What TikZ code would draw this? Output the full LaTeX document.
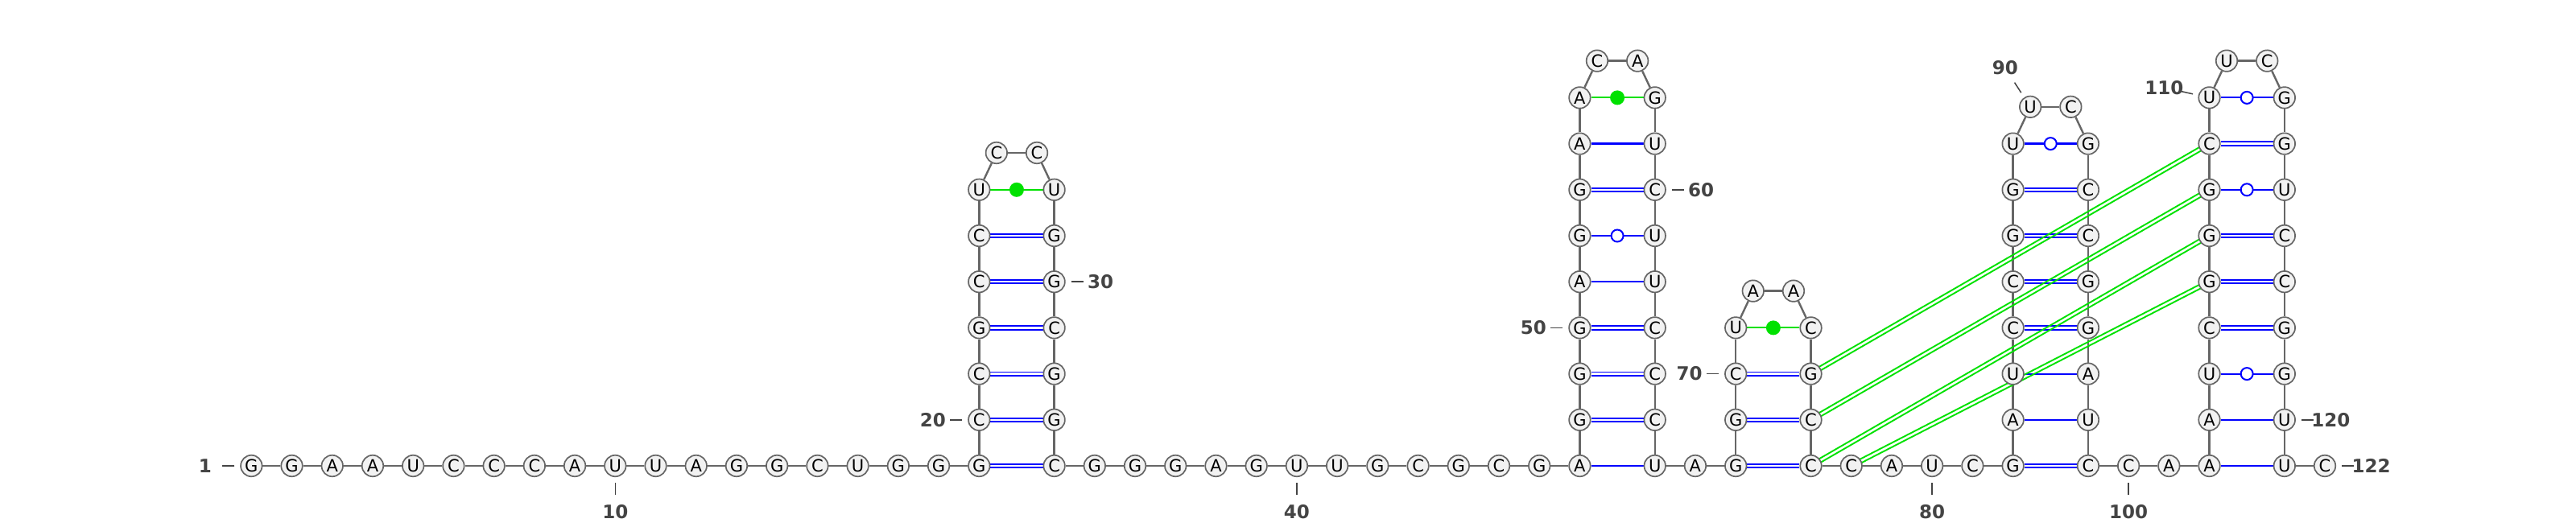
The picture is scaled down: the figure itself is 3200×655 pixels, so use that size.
\documentclass[tikz,border=0pt]{standalone}
\usepackage{fontspec}
\setmainfont{DejaVu Sans}
\usetikzlibrary{calc}
\usetikzlibrary{decorations.markings}
\pgfdeclarelayer{back}
\pgfsetlayers{back,main}

\definecolor{bbgray}{RGB}{102,102,102}
\definecolor{ntfill}{RGB}{242,242,242}
\definecolor{numgray}{RGB}{68,68,68}
\definecolor{pairblue}{RGB}{0,0,255}
\definecolor{ncgreen}{RGB}{0,225,0}

\newcommand{\ybase}{579}
\newcommand{\ntstep}{50.22}
\newcommand{\rowstep}{57.2}
\newcommand{\pairw}{93.3}
\newcommand{\loopup}{45.8}

% unpaired run on the base line: #1 x of first base, #2 its number, #3 bases
\newcommand{\unpaired}[3]{%
  \foreach \nb [count=\k from 0] in {#3} {
    \pgfmathtruncatemacro{\i}{#2+\k}
    \node[nt] (n\i) at ({#1+\k*\ntstep},\ybase) {\nb};
  }}

% stem-loop: #1 x of 5' side, #2 first base, #3 rows, #4 5' side (up), #5 loop, #6 3' side (down)
\newcommand{\hairpin}[6]{%
  \foreach \nb [count=\k from 0] in {#4} {
    \pgfmathtruncatemacro{\i}{#2+\k}
    \node[nt] (n\i) at (#1,{\ybase-\k*\rowstep}) {\nb};
  }
  \foreach \nb [count=\k from 0] in {#5} {
    \pgfmathtruncatemacro{\i}{#2+#3+\k}
    \node[nt] (n\i) at ({#1+\pairw/2+(\k-0.5)*\ntstep},{\ybase-(#3-1)*\rowstep-\loopup}) {\nb};
  }
  \foreach \nb [count=\k from 0] in {#6} {
    \pgfmathtruncatemacro{\i}{#2+#3+2+\k}
    \node[nt] (n\i) at ({#1+\pairw},{\ybase-(#3-1-\k)*\rowstep}) {\nb};
  }}

% position number with its tick: #1 base, #2 direction, #3 text
\newcommand{\numlabel}[3]{%
  \draw[tick] ($(n#1)+(#2:21)$) -- ($(n#1)+(#2:36)$);
  \node[num] at ($(n#1)+(#2:57.5)$) {#3};}

\begin{document}
\begin{tikzpicture}[
  x=1pt, y=-1pt,
  nt/.style = {circle, draw=bbgray, fill=ntfill, line width=1.7pt, minimum size=26.5pt,
    inner sep=0pt, font=\fontsize{21}{21}\selectfont},
  num/.style = {text=numgray, inner sep=0pt, font=\fontsize{23}{23}\selectfont\bfseries},
  tick/.style = {draw=numgray, line width=1.5pt},
  backbone/.style = {draw=bbgray, line width=2.4pt},
  au/.style = {draw=pairblue, line width=2.2pt},
  gc/.style = {draw=pairblue, line width=1.9pt, double=white, double distance=2.4pt},
  gudot/.style = {circle, draw=pairblue, fill=white, line width=2pt, minimum size=15pt, inner sep=0pt},
  ncdot/.style = {circle, fill=ncgreen, minimum size=18pt, inner sep=0pt},
  gu/.style = {au, postaction={decorate, decoration={markings, mark=at position .5 with {\node[gudot] {};}}}},
  nc/.style = {draw=ncgreen, line width=2pt,
    postaction={decorate, decoration={markings, mark=at position .5 with {\node[ncdot] {};}}}},
  pk/.style = {draw=ncgreen, line width=1.9pt}
  ]
	\useasboundingbox (0,0) rectangle (3200,655);

	\unpaired{312.3}{1}{G,G,A,A,U,C,C,C,A,U,U,A,G,G,C,U,G,G}
	\hairpin{1216.3}{19}{7}{G,C,C,G,C,C,U}{C,C}{U,G,G,C,G,G,C}
	\unpaired{1359.8}{35}{G,G,G,A,G,U,U,G,C,G,C,G}
	\hairpin{1962.4}{47}{9}{A,G,G,G,A,G,G,A,A}{C,A}{G,U,C,U,U,C,C,C,U}
	\unpaired{2105.9}{67}{A}
	\hairpin{2156.2}{68}{4}{G,G,C,U}{A,A}{C,G,C,C}
	\unpaired{2299.7}{78}{C,A,U,C}
	\hairpin{2500.6}{82}{8}{G,A,U,C,C,G,G,U}{U,C}{G,C,C,G,G,A,U,C}
	\unpaired{2644.1}{100}{C,A}
	\hairpin{2744.5}{102}{9}{A,A,U,C,G,G,G,C,U}{U,C}{G,G,U,C,C,G,G,U,U}
	\unpaired{2888.0}{122}{C}

	\begin{pgfonlayer}{back}
	\foreach \i [evaluate=\i as \j using int(\i+1)] in {1,...,121}
		\draw[backbone] (n\i) -- (n\j);

	\foreach \i/\j/\t in {19/34/gc,20/33/gc,21/32/gc,22/31/gc,23/30/gc,24/29/gc,25/28/nc,
		47/66/au,48/65/gc,49/64/gc,50/63/gc,51/62/au,52/61/gu,53/60/gc,54/59/au,55/58/nc,
		68/77/gc,69/76/gc,70/75/gc,71/74/nc,
		82/99/gc,83/98/au,84/97/au,85/96/gc,86/95/gc,87/94/gc,88/93/gc,89/92/gu,
		102/121/au,103/120/au,104/119/gu,105/118/gc,106/117/gc,107/116/gc,108/115/gu,109/114/gc,110/113/gu}
		\draw[\t] (n\i) -- (n\j);

	% pseudoknot
	\foreach \i/\j in {75/109,76/108,77/107,78/106} {
		\draw[pk] ($(n\i)!2.4pt!90:(n\j)$) -- ($(n\j)!2.4pt!-90:(n\i)$);
		\draw[pk] ($(n\i)!2.4pt!-90:(n\j)$) -- ($(n\j)!2.4pt!90:(n\i)$);
	}
	\end{pgfonlayer}

	\numlabel{1}{180}{1}
	\numlabel{10}{90}{10}
	\numlabel{20}{180}{20}
	\numlabel{30}{0}{30}
	\numlabel{40}{90}{40}
	\numlabel{50}{180}{50}
	\numlabel{60}{0}{60}
	\numlabel{70}{180}{70}
	\numlabel{80}{90}{80}
	\numlabel{90}{237}{90}
	\numlabel{100}{90}{100}
	\numlabel{110}{192.6}{110}
	\numlabel{120}{0}{120}
	\numlabel{122}{0}{122}

\end{tikzpicture}
\end{document}
